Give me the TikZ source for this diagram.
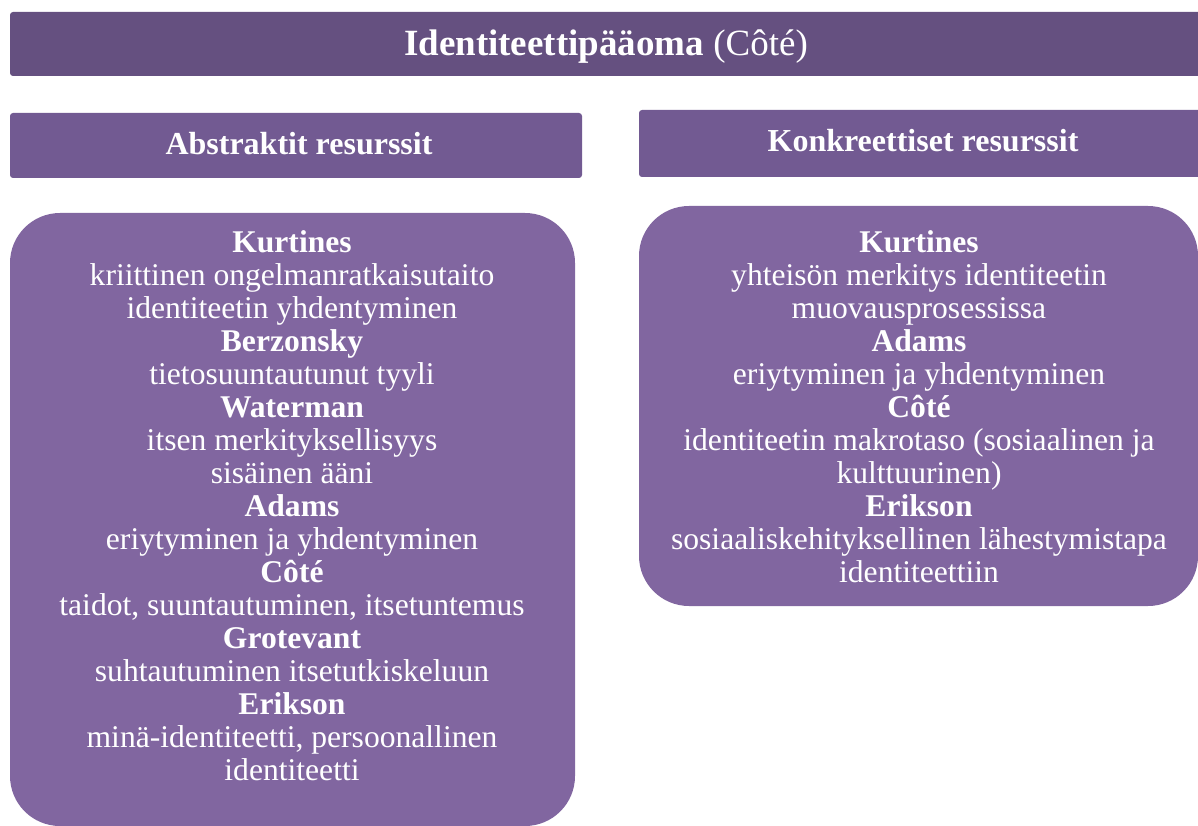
\documentclass[tikz,border=0pt]{standalone}
\usepackage{fontspec}
\setmainfont{Liberation Serif}
\definecolor{titlec}{RGB}{101,80,128}
\definecolor{headc}{RGB}{114,90,146}
\definecolor{boxc}{RGB}{129,102,160}
\begin{document}
\begin{tikzpicture}[x=1pt,y=-1pt,
  bar/.style={fill=titlec, rounded corners=3pt},
  headbox/.style={fill=headc, rounded corners=3pt},
  bigbox/.style={fill=boxc, rounded corners=50pt},
  ttext/.style={text=white, font=\fontsize{37}{40}\selectfont, inner sep=0pt, anchor=base},
  htext/.style={text=white, font=\fontsize{32}{36}\selectfont\bfseries, inner sep=0pt, anchor=base},
  btext/.style={text=white, font=\fontsize{31.6}{33}\selectfont, align=center, inner sep=0pt, anchor=base}
]
\useasboundingbox (0,0) rectangle (1198,826);
\fill[bar] (10,12) rectangle (1204,76);
\node[ttext] (title) at (606,56) {\textbf{Identiteettipääoma} (Côté)};
\fill[headbox] (10,113) rectangle (582,178);
\node[htext] (hl) at (299,155) {Abstraktit resurssit};
\fill[headbox] (639,110) rectangle (1208,177);
\node[htext] (hr) at (923,152) {Konkreettiset resurssit};
\fill[bigbox] (10,213) rectangle (575,826);
\fill[bigbox] (639,206) rectangle (1198,606);
\node[btext] (lt) at (292,780) {\textbf{Kurtines}\\kriittinen ongelmanratkaisutaito\\identiteetin yhdentyminen\\\textbf{Berzonsky}\\tietosuuntautunut tyyli\\\textbf{Waterman}\\itsen merkityksellisyys\\sisäinen ääni\\\textbf{Adams}\\eriytyminen ja yhdentyminen\\\textbf{Côté}\\taidot, suuntautuminen, itsetuntemus\\\textbf{Grotevant}\\suhtautuminen itsetutkiskeluun\\\textbf{Erikson}\\minä-identiteetti, persoonallinen\\identiteetti};
\node[btext] (rt) at (919,582) {\textbf{Kurtines}\\yhteisön merkitys identiteetin\\muovausprosessissa\\\textbf{Adams}\\eriytyminen ja yhdentyminen\\\textbf{Côté}\\identiteetin makrotaso (sosiaalinen ja\\kulttuurinen)\\\textbf{Erikson}\\sosiaaliskehityksellinen lähestymistapa\\identiteettiin};
\end{tikzpicture}
\end{document}
